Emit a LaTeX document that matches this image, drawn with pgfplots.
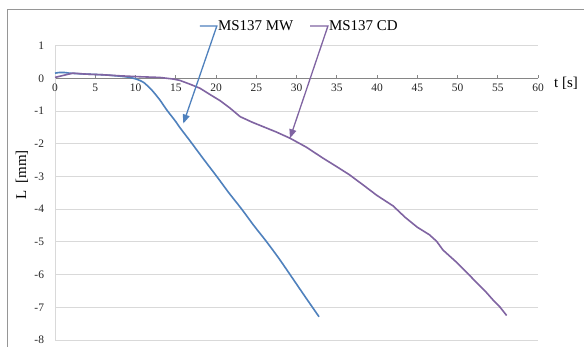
\documentclass[border=0pt]{standalone}
\usepackage{fontspec}
\setmainfont{Liberation Serif}
\usepackage{pgfplots}
\pgfplotsset{compat=1.18}
\usetikzlibrary{arrows.meta}

\definecolor{mwblue}{RGB}{79,129,189}
\definecolor{cdpurple}{RGB}{128,100,162}
\definecolor{gridgray}{RGB}{217,217,217}
\definecolor{axisgray}{RGB}{134,134,134}
\definecolor{framegray}{RGB}{150,150,150}

\begin{document}
\begin{tikzpicture}[x=1bp,y=1bp]
\useasboundingbox (0,0) rectangle (584,346);
\fill[white] (0,0) rectangle (584,346);
% chart area frame
\draw[framegray, line width=1bp] (7,-5) -- (7,336) -- (590,336);
\begin{axis}[
  at={(55bp,6bp)}, anchor=south west,
  scale only axis, width=483bp, height=294.3bp,
  xmin=0, xmax=60, ymin=-8, ymax=1,
  clip=false,
  axis x line=middle, axis y line=left,
  axis line style={-},
  x axis line style={axisgray, line width=1bp},
  y axis line style={gridgray, line width=1bp},
  hide obscured x ticks=false,
  hide obscured y ticks=false,
  xtick={0,5,...,60}, ytick={-8,-7,...,1},
  ymajorgrids, major grid style={gridgray, line width=1bp},
  xtick style={axisgray, line width=0.8bp},
  major tick length=3bp,
  xtick align=inside,
  ytick style={draw=none},
  /pgf/number format/assume math mode=true,
  tick label style={font=\fontsize{11.5}{13}\selectfont, text=black!85},
  xticklabel style={anchor=north, yshift=-2bp},
  yticklabel style={anchor=east, xshift=-6bp},
]
\addplot[mwblue, line width=1.6bp, smooth, tension=0.4] coordinates {
  (0,0.16) (0.5,0.18) (1.2,0.18) (1.8,0.16) (2.5,0.15) (4,0.13) (6,0.11)
  (8,0.07) (9.3,0.03) (10.2,-0.03) (11,-0.12) (12,-0.35) (13,-0.65)
  (13.9,-0.97) (15,-1.32) (15.5,-1.5) (16.8,-1.92) (18.4,-2.45)
  (20.1,-3.0) (21.6,-3.5) (23.2,-4.0) (24.7,-4.5) (26.3,-5.0)
  (27.8,-5.5) (29.2,-6.0) (31.0,-6.65) (32.8,-7.29)
};
\addplot[cdpurple, line width=1.6bp] coordinates {
  (0,0.03) (1,0.09) (2.2,0.16) (4,0.13) (6,0.11) (8,0.08) (10.6,0.05)
  (13,0.03) (14.7,-0.02) (15.5,-0.06) (16.8,-0.18) (18,-0.3) (19.3,-0.5)
  (20.5,-0.68) (21.8,-0.92) (23,-1.17) (24.5,-1.34) (25.9,-1.48)
  (27.5,-1.64) (29.2,-1.83) (31.2,-2.1) (33.3,-2.44) (35,-2.7)
  (36.6,-2.95) (38.5,-3.3) (40,-3.58) (42,-3.9) (43.5,-4.25) (45,-4.55)
  (46.5,-4.78) (47.4,-4.98) (48.2,-5.25) (49.1,-5.45) (50,-5.65)
  (51.2,-5.95) (52.2,-6.2) (53.6,-6.55) (54.5,-6.8) (55.3,-7.0)
  (56.1,-7.25)
};
% callouts naming the two series
\draw[mwblue, line width=1.3bp, -{Triangle[length=9bp,width=7bp]}]
  (axis cs:18.0,1.6) -- (axis cs:20.1,1.6) -- (axis cs:15.94,-1.38);
\node[anchor=west, inner sep=1bp, font=\fontsize{15}{17}\selectfont]
  at (axis cs:20.1,1.6) {MS137 MW};
\draw[cdpurple, line width=1.3bp, -{Triangle[length=9bp,width=7bp]}]
  (axis cs:31.7,1.6) -- (axis cs:33.9,1.6) -- (axis cs:29.19,-1.83);
\node[anchor=west, inner sep=1bp, font=\fontsize{15}{17}\selectfont]
  at (axis cs:33.9,1.6) {MS137 CD};
\end{axis}
\node[font=\fontsize{15}{17}\selectfont] at (566,263) {t [s]};
\node[rotate=90, font=\fontsize{15}{17}\selectfont] at (22,171) {L\ \ [mm]};
\end{tikzpicture}
\end{document}
